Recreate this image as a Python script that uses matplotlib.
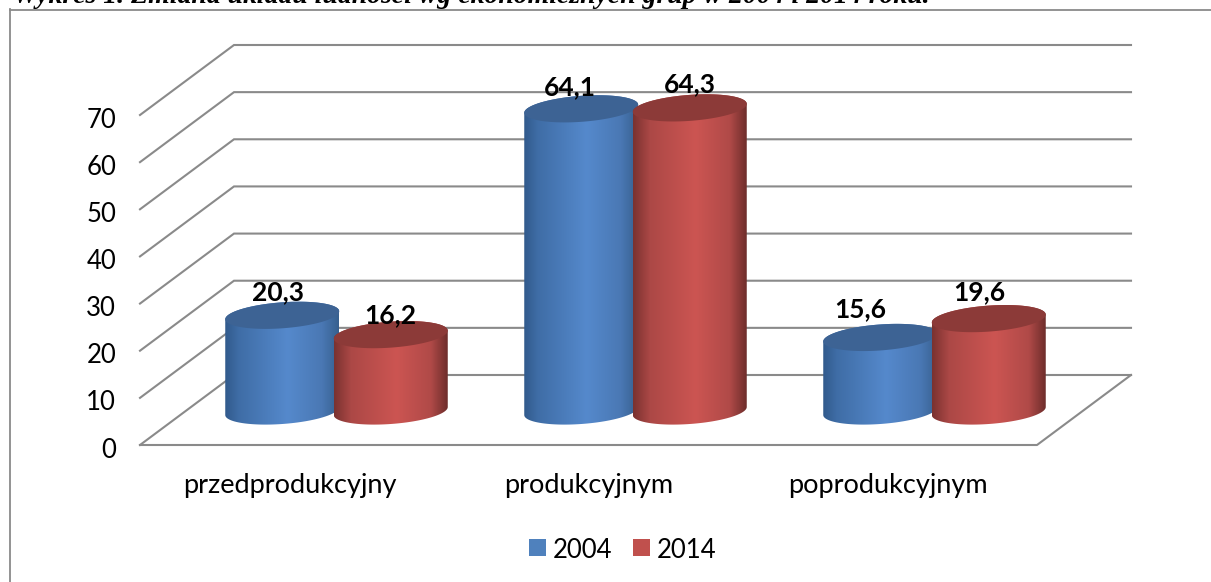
import numpy as np
import matplotlib
matplotlib.use("Agg")
import matplotlib.pyplot as plt
from matplotlib.patches import Polygon, Rectangle
from matplotlib.colors import LinearSegmentedColormap

# ---- data ----
categories = ["przedprodukcyjny", "produkcyjnym", "poprodukcyjnym"]
series_names = ["2004", "2014"]
values_2004 = [20.3, 64.1, 15.6]
values_2014 = [16.2, 64.3, 19.6]
value_labels_2004 = ["20,3", "64,1", "15,6"]
value_labels_2014 = ["16,2", "64,3", "19,6"]
y_ticks = [0, 10, 20, 30, 40, 50, 60, 70]
title = "Wykres 1. Zmiana układu ludności wg ekonomicznych grup w 2004 i 2014 roku."

# ---- label placement (pixels relative to the cylinder top) ----
nudge_x_2004 = [-4, -11, -20]
nudge_y_2004 = [15, 14, 20]
nudge_x_2014 = [0, 0, -9]
nudge_y_2014 = [11.5, 16, 18.5]

W, H = 1211, 582
FONT = "Lato"
FS = 19.5
FS_NUM = 18.5
fig = plt.figure(figsize=(W / 100, H / 100), dpi=100, facecolor="white")

# axes rectangle: x from -0.5..2.5 at px 140..1037, y 0..70 at px 445..115
L, R, B, T = 140, 1037, 445, 115
ax = fig.add_axes([L / W, 1 - B / H, (R - L) / W, (B - T) / H])
ax.axis("off")
ax.set_xlim(-0.5, 2.5)
ax.set_ylim(0, 70)

px_x = 3 / (R - L)          # category units per pixel
px_y = 70 / (B - T)         # value units per pixel
depth_x = 94 * px_x
depth_y = 70 * px_y
grid_c = "#8a8a8a"

# walls and floor
for v in y_ticks:
    ax.plot([-0.5, -0.5 + depth_x, 2.5 + depth_x], [v, v + depth_y, v + depth_y],
            color=grid_c, lw=1.5, clip_on=False, zorder=1, solid_joinstyle="miter")
    ax.text(-0.5 - 24 * px_x, v - 5 * px_y, str(v), ha="right", va="center",
            fontsize=FS_NUM, family=FONT, color="black")
ax.plot([-0.5, 2.5, 2.5 + depth_x], [0, 0, depth_y], color=grid_c, lw=1.5,
        clip_on=False, zorder=1)

blue = LinearSegmentedColormap.from_list("b", [(0, "#315A8C"), (0.12, "#3F6DA6"), (0.55, "#5589CC"),
                                               (0.85, "#4A78B4"), (1, "#37608F")])
red = LinearSegmentedColormap.from_list("r", [(0, "#7A3230"), (0.15, "#AC4846"), (0.55, "#CC5552"),
                                              (0.85, "#B04A48"), (1, "#6E2D2B")])
top_cols = {"2004": "#3D6394", "2014": "#8C3A38"}

half_w = 57 * px_x
semi_b = 13 * px_y
tilt = 0.07 * (px_y / px_x)
bar_step = 108.5 * px_x
base = depth_y / 2 - 1.0 * px_y


def cylinder(xc, val, cmap, top_col, z):
    t = np.linspace(0, 2 * np.pi, 181)
    ex = half_w * np.cos(t)
    ey = semi_b * np.sin(t) + tilt * ex
    # body outline: lower half of the base ellipse plus the upper half at the top
    lower = (t >= np.pi)
    upper = (t <= np.pi)
    poly = Polygon(np.column_stack([np.r_[xc + ex[lower], xc + ex[upper]],
                                    np.r_[base + ey[lower], base + val + ey[upper]]]),
                   closed=True, transform=ax.transData, facecolor="none", edgecolor="none")
    ax.add_patch(poly)
    poly.set_clip_on(False)
    im = ax.imshow(np.linspace(0, 1, 256)[None, :], cmap=cmap, aspect="auto",
                   extent=[xc - half_w, xc + half_w, -5, 90], zorder=z)
    im.set_clip_box(fig.bbox)
    im.set_clip_path(poly)
    ax.add_patch(Polygon(np.column_stack([xc + ex, base + val + ey]), closed=True,
                         facecolor=top_col, edgecolor="none", zorder=z + 0.1, clip_on=False))


for i in range(len(categories)):
    xc = i + depth_x / 2
    cylinder(xc - bar_step / 2, values_2004[i], blue, top_cols["2004"], 2 + i)
    cylinder(xc + bar_step / 2, values_2014[i], red, top_cols["2014"], 2.5 + i)

ax.set_xlim(-0.5, 2.5)
ax.set_ylim(0, 70)

# data labels and category labels
for i in range(len(categories)):
    xc = i + depth_x / 2
    ax.text(xc - bar_step / 2 + nudge_x_2004[i] * px_x, values_2004[i] + base + nudge_y_2004[i] * px_y,
            value_labels_2004[i], ha="center", va="baseline", fontsize=19, fontweight="bold",
            family=FONT, zorder=20)
    ax.text(xc + bar_step / 2 + nudge_x_2014[i] * px_x, values_2014[i] + base + nudge_y_2014[i] * px_y,
            value_labels_2014[i], ha="center", va="baseline", fontsize=19, fontweight="bold",
            family=FONT, zorder=20)
    ax.text(i, -40 * px_y, categories[i], ha="center", va="center", fontsize=FS,
            family=FONT, color="black")


# chart frame, title, legend in figure pixel coordinates
def fx(x): return x / W
def fy(y): return 1 - y / H


fig.add_artist(plt.Line2D([fx(10), fx(10)], [fy(9), fy(582)], color="#8a8a8a", lw=1.3))
fig.add_artist(plt.Line2D([fx(10), fx(1211)], [fy(9.5), fy(9.5)], color="#8a8a8a", lw=1.3))
fig.text(fx(13), fy(3), title, family="Liberation Serif", fontsize=20, fontweight="bold",
         fontstyle="italic", ha="left", va="baseline")

for x0, c, name in zip([529, 633], ["#4F81BD", "#C0504D"], series_names):
    fig.add_artist(Rectangle((fx(x0), fy(556)), 17 / W, 17 / H, transform=fig.transFigure,
                             facecolor=c, edgecolor="none"))
    fig.text(fx(x0 + 24), fy(550), name, family=FONT, fontsize=FS_NUM, ha="left", va="center")

fig.savefig("out.png", dpi=100)
